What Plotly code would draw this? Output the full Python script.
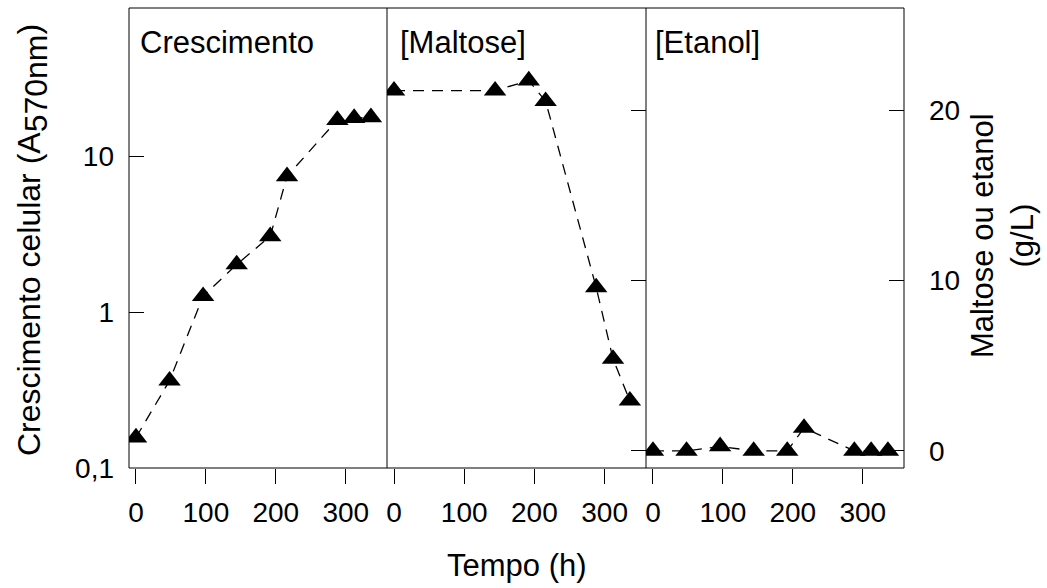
import plotly.graph_objects as go

# ---- data ----
growth_t = [0, 48, 96, 144, 192, 216, 288, 312, 336]
growth = [0.157, 0.364, 1.27, 2.03, 3.08, 7.48, 17.2, 17.7, 17.9]

maltose_t = [0, 144, 192, 216, 288, 312, 336]
maltose = [21.15, 21.15, 21.74, 20.53, 9.6, 5.4, 2.95]

ethanol_t = [0, 48, 96, 144, 192, 216, 288, 312, 336]
ethanol = [0, 0, 0.27, 0, 0, 1.35, 0, 0, 0]

x_ticks = [0, 100, 200, 300]
x_ticklabels = ["0", "100", "200", "300"]
y_log_ticks = [0.1, 1, 10]
y_log_ticklabels = ["0,1", "1", "10"]
y_lin_ticks = [0, 10, 20]
y_lin_ticklabels = ["0", "10", "20"]
panel_labels = ["Crescimento", "[Maltose]", "[Etanol]"]

# ---- layout geometry (pixels) ----
W, H = 1047, 588
L, R, T, B = 129, 904, 8, 468
PW, PH = R - L, B - T
div1, div2 = 387, 646


def px(x):
    return (x - L) / PW


def py(y):
    return (B - y) / PH


FONT = "Liberation Sans, Arial, sans-serif"
mk = dict(symbol="triangle-up", size=19.5, color="black", line=dict(width=0))
ln = dict(color="black", width=1.3, dash="11px,8px")

fig = go.Figure()
fig.add_trace(go.Scatter(x=growth_t, y=growth, mode="lines+markers", marker=mk, line=ln,
                         xaxis="x", yaxis="y", showlegend=False))
fig.add_trace(go.Scatter(x=maltose_t, y=maltose, mode="lines+markers", marker=mk, line=ln,
                         xaxis="x2", yaxis="y2", showlegend=False))
fig.add_trace(go.Scatter(x=ethanol_t, y=ethanol, mode="lines+markers", marker=mk, line=ln,
                         xaxis="x3", yaxis="y3", showlegend=False))

xcommon = dict(range=[-10, 359], tickvals=x_ticks, ticktext=x_ticklabels, ticks="outside",
               ticklen=15, tickcolor="black", tickwidth=1, showgrid=False, zeroline=False,
               showline=False, tickfont=dict(family=FONT, size=28, color="black"),
               ticklabelstandoff=4)
ylin = dict(range=[-1, 26], tickvals=y_lin_ticks, ticks="inside", ticklen=15, tickcolor="black",
            tickwidth=1, showgrid=False, zeroline=False, showline=False, side="right",
            tickfont=dict(family=FONT, size=28, color="black"))

fig.update_layout(
    width=W, height=H,
    margin=dict(l=L, r=W - R, t=T, b=H - B, pad=0),
    plot_bgcolor="white", paper_bgcolor="white",
    xaxis=dict(domain=[0, px(div1)], anchor="y", **xcommon),
    xaxis2=dict(domain=[px(div1), px(div2)], anchor="y2", **xcommon),
    xaxis3=dict(domain=[px(div2), 1], anchor="y3", **xcommon),
    yaxis=dict(type="log", range=[-1, 1.955], tickvals=y_log_ticks, ticktext=y_log_ticklabels,
               ticks="inside", ticklen=15, tickcolor="black", tickwidth=1, showgrid=False,
               zeroline=False, showline=False, anchor="x",
               tickfont=dict(family=FONT, size=28, color="black"), ticklabelstandoff=14),
    yaxis2=dict(anchor="x2", showticklabels=False, **ylin),
    yaxis3=dict(anchor="x3", ticktext=y_lin_ticklabels, showticklabels=True,
                ticklabelstandoff=24, **ylin),
)

# frame and dividers
fig.add_shape(type="rect", xref="paper", yref="paper", x0=0, x1=1, y0=0, y1=1,
              line=dict(color="black", width=1), layer="above")
for d in (div1, div2):
    fig.add_shape(type="line", xref="paper", yref="paper", x0=px(d), x1=px(d), y0=0, y1=1,
                  line=dict(color="black", width=1), layer="above")

# panel labels
for lab, xl in zip(panel_labels, [138, 398, 653]):
    fig.add_annotation(text=lab, xref="paper", yref="paper", x=px(xl), y=py(42),
                       xanchor="left", yanchor="middle", showarrow=False,
                       font=dict(family=FONT, size=31, color="black"))

# axis titles
fig.add_annotation(text="Tempo (h)", xref="paper", yref="paper", x=px(517), y=py(565),
                   xanchor="center", yanchor="middle", showarrow=False,
                   font=dict(family=FONT, size=31, color="black"))
fig.add_annotation(
    text="Crescimento celular (A<sub><span style='font-size:32px'>570nm</span></sub>)",
    xref="paper", yref="paper", x=px(32), y=py(240), xanchor="center", yanchor="middle",
    textangle=-90, showarrow=False, font=dict(family=FONT, size=32, color="black"))
fig.add_annotation(text="Maltose ou etanol<br>(g/L)", xref="paper", yref="paper",
                   x=px(1002), y=py(236), xanchor="center", yanchor="middle",
                   textangle=-90, showarrow=False,
                   font=dict(family=FONT, size=31, color="black"))

fig.write_html("out.html")
